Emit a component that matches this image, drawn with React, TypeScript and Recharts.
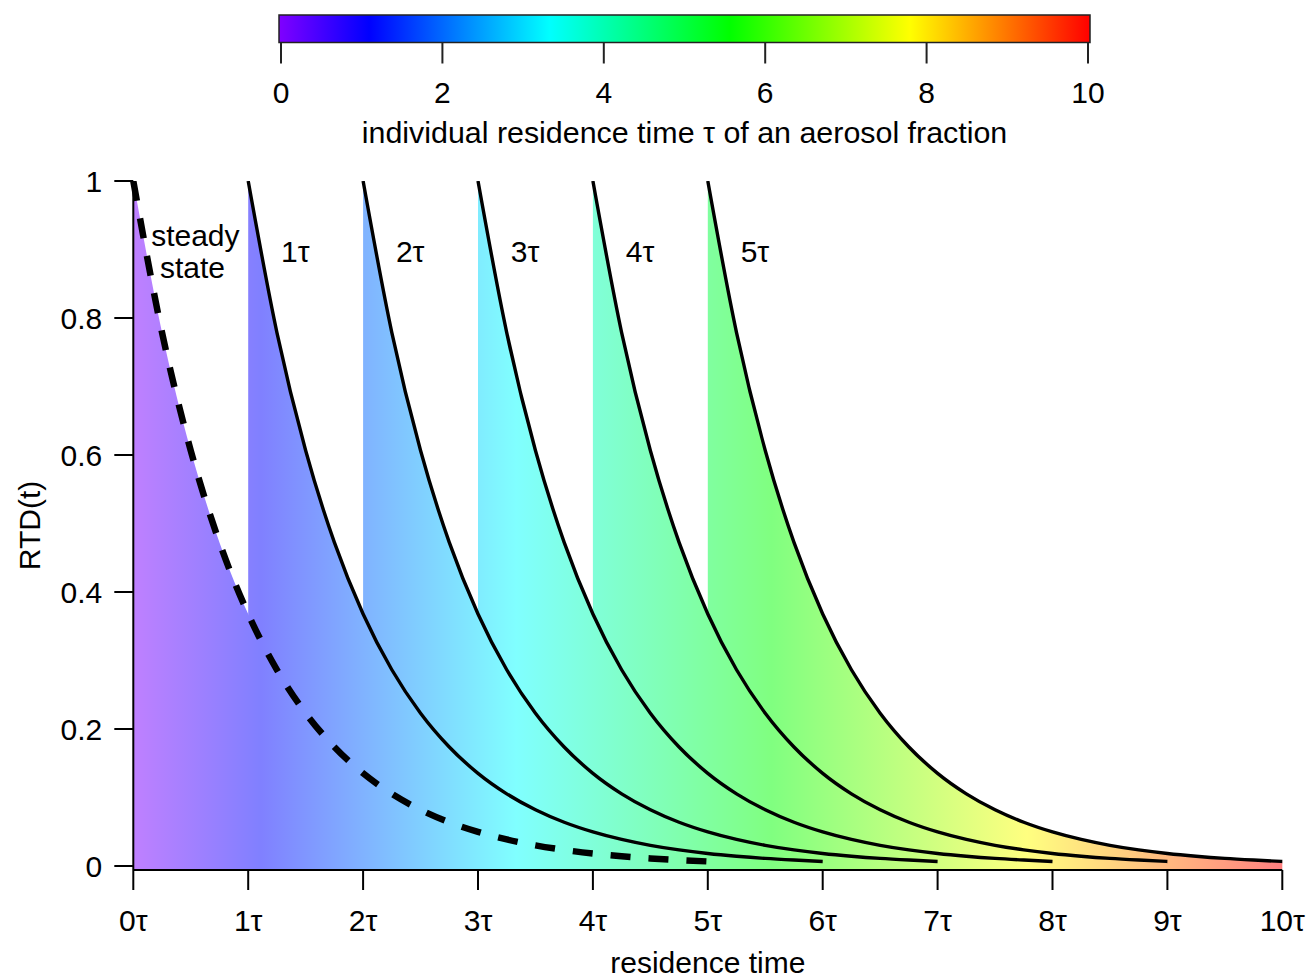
import React from 'react';
import { ComposedChart, Area, Line, XAxis, YAxis, ReferenceArea, Scatter } from 'recharts';

// time offsets after injection (in units of tau) and the RTD decay
const offsets = [0, 0.25, 0.5, 0.75, 1, 1.25, 1.5, 1.75, 2, 2.25, 2.5, 2.75, 3, 3.25, 3.5, 3.75, 4, 4.25, 4.5, 4.75, 5];
const decay = [1, 0.7788, 0.6065, 0.4724, 0.3679, 0.2865, 0.2231, 0.1738, 0.1353, 0.1054, 0.0821, 0.0639, 0.0498, 0.0388, 0.0302, 0.0235, 0.0183, 0.0143, 0.0111, 0.0087, 0.0067];
// start times of each aerosol fraction (0 = steady state)
const startTimes = [0, 1, 2, 3, 4, 5];
const xTicks = [0, 1, 2, 3, 4, 5, 6, 7, 8, 9, 10];
const xTickLabels = ['0τ', '1τ', '2τ', '3τ', '4τ', '5τ', '6τ', '7τ', '8τ', '9τ', '10τ'];
const yTicks = [0, 0.2, 0.4, 0.6, 0.8, 1];
const yTickLabels = ['0', '0.2', '0.4', '0.6', '0.8', '1'];
const colorbarTicks = [0, 2, 4, 6, 8, 10];
const labelTexts = ['steady', 'state', '1τ', '2τ', '3τ', '4τ', '5τ'];
const labelX = [0.54, 0.515, 1.41, 2.41, 3.41, 4.41, 5.41];
const labelY = [0.905, 0.858, 0.882, 0.882, 0.882, 0.882, 0.882];

const FONT = '"Liberation Sans", Arial, sans-serif';
const W = 1313;
const H = 978;

const curve = (start: number) => offsets.map((o, i) => ({ x: start + o, y: decay[i] }));
const labelPoints = labelTexts.map((t, i) => ({ x: labelX[i], y: labelY[i], text: t }));
const colorbarData = [{ x: 0, v: 0 }, { x: 10, v: 1 }];

const rainbow = ['#8000ff', '#0000ff', '#0080ff', '#00ffff', '#00ff80', '#00ff00', '#80ff00', '#ffff00', '#ff8000', '#ff0000'];
const rainbowLight = ['#bf80ff', '#8080ff', '#80bfff', '#80ffff', '#80ffbf', '#80ff80', '#bfff80', '#ffff80', '#ffbf80', '#ff8080'];

const tickStyle = { fontSize: 30, fill: '#000', fontFamily: FONT };

const LabelShape = (props: any) => {
  const { cx, cy, payload } = props;
  return (
    <text x={cx} y={cy} textAnchor="middle" fontSize={30} fontFamily={FONT} fill="#000">
      {payload.text}
    </text>
  );
};

export default function App() {
  return (
    <div style={{ position: 'absolute', left: 0, top: 0, width: W, height: H, fontFamily: FONT, background: '#fff' }}>
      <div style={{ position: 'absolute', left: 0, top: 0 }}>
        <ComposedChart width={W} height={160} data={colorbarData} margin={{ top: 15, right: 223, left: 279, bottom: 17 }}>
          <defs>
            <linearGradient id="cbGrad" x1="0" y1="0" x2="1" y2="0">
              {rainbow.map((c, i) => (
                <stop key={i} offset={`${(i / (rainbow.length - 1)) * 100}%`} stopColor={c} />
              ))}
            </linearGradient>
          </defs>
          <XAxis
            dataKey="x"
            type="number"
            domain={[-0.025, 10.025]}
            allowDataOverflow
            ticks={colorbarTicks}
            interval={0}
            axisLine={false}
            tickLine={{ stroke: '#222', strokeWidth: 2 }}
            tickSize={21}
            tickMargin={18}
            tick={tickStyle}
            height={100.5}
            label={{
              value: 'individual residence time τ of an aerosol fraction',
              position: 'insideBottom',
              offset: 0,
              style: { fontSize: 30.4, fill: '#000', fontFamily: FONT },
            }}
          />
          <YAxis hide type="number" domain={[0, 1]} />
          <Line dataKey="v" stroke="none" dot={false} activeDot={false} isAnimationActive={false} />
          <ReferenceArea x1={-0.025} x2={10.025} y1={0} y2={1} fill="url(#cbGrad)" fillOpacity={1} stroke="#222" strokeWidth={1.5} />
        </ComposedChart>
      </div>
      <div style={{ position: 'absolute', left: 0, top: 0 }}>
        <ComposedChart width={W} height={H} margin={{ top: 181, right: 30.7, left: 0, bottom: 0 }}>
          <defs>
            <linearGradient id="rtdFill" gradientUnits="userSpaceOnUse" x1="133.3" y1="0" x2="1282.3" y2="0">
              {rainbowLight.map((c, i) => (
                <stop key={i} offset={`${(i / (rainbowLight.length - 1)) * 100}%`} stopColor={c} />
              ))}
            </linearGradient>
          </defs>
          <XAxis
            dataKey="x"
            type="number"
            domain={[0, 10]}
            ticks={xTicks}
            interval={0}
            tickFormatter={(v: number) => xTickLabels[xTicks.indexOf(v)]}
            axisLine={{ stroke: '#000', strokeWidth: 2 }}
            tickLine={{ stroke: '#000', strokeWidth: 2 }}
            tickSize={20}
            tickMargin={20}
            tick={tickStyle}
            height={108}
            label={{
              value: 'residence time',
              position: 'insideBottom',
              offset: 5,
              style: { fontSize: 30, fill: '#000', fontFamily: FONT },
            }}
          />
          <YAxis
            type="number"
            domain={[-0.0058, 1]}
            allowDataOverflow
            ticks={yTicks}
            interval={0}
            tickFormatter={(v: number) => yTickLabels[yTicks.indexOf(v)]}
            axisLine={{ stroke: '#000', strokeWidth: 2 }}
            tickLine={{ stroke: '#000', strokeWidth: 2 }}
            tickSize={19}
            tickMargin={12}
            tick={tickStyle}
            width={133.3}
            label={{
              value: 'RTD(t)',
              angle: -90,
              position: 'insideLeft',
              offset: 29,
              style: { fontSize: 30, fill: '#000', fontFamily: FONT, textAnchor: 'middle' },
            }}
          />
          {startTimes.map((s, i) => (
            <Area
              key={`a${i}`}
              data={curve(s)}
              dataKey="y"
              type="monotone"
              stroke="none"
              fill="url(#rtdFill)"
              fillOpacity={1}
              baseValue={-0.0044}
              dot={false}
              activeDot={false}
              isAnimationActive={false}
            />
          ))}
          {startTimes.map((s, i) => (
            <Line
              key={`l${i}`}
              data={curve(s)}
              dataKey="y"
              type="monotone"
              stroke="#000"
              strokeWidth={i === 0 ? 6.5 : 3.4}
              strokeDasharray={i === 0 ? '20 18' : undefined}
              dot={false}
              activeDot={false}
              isAnimationActive={false}
            />
          ))}
          <Scatter data={labelPoints} dataKey="y" shape={LabelShape} isAnimationActive={false} />
        </ComposedChart>
      </div>
    </div>
  );
}
